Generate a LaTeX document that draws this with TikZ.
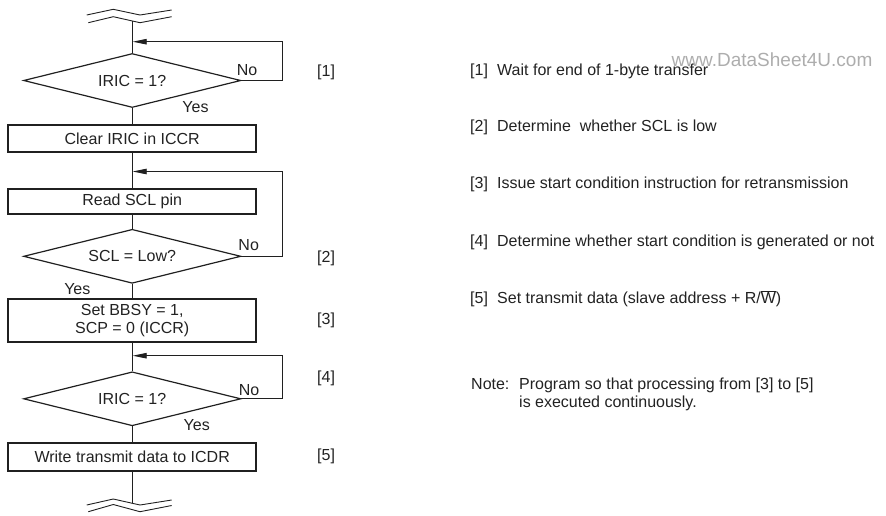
\documentclass[tikz,border=0pt]{standalone}
\usepackage{fontspec}
\setmainfont{Liberation Sans}
\usetikzlibrary{shapes.geometric,arrows.meta}
\definecolor{ln}{HTML}{202020}
\definecolor{tx}{HTML}{222222}
\definecolor{wm}{HTML}{ADADAD}
\tikzset{
  x=1pt, y=-1pt,
  every node/.style={text=tx, font=\fontsize{16}{18}\selectfont},
  procbox/.style={draw=ln, line width=2pt, rectangle, minimum width=247.7pt, inner sep=0pt, align=center},
  decbox/.style={draw=ln, line width=1.2pt, diamond, aspect=4, minimum width=217.3pt, minimum height=54pt, inner sep=0pt},
  conn/.style={draw=ln, line width=0.9pt},
  arr/.style={conn, -{Triangle[length=14pt,width=5.5pt]}},
  brk/.style={draw=ln, line width=0.9pt},
  lbl/.style={inner sep=0pt, anchor=base},
  ref/.style={inner sep=0pt, anchor=base west},
}
\begin{document}
\begin{tikzpicture}
\useasboundingbox (0,0) rectangle (886,515);

% break symbols
\draw[brk] (86.7,15) -- (113.3,9.3) -- (140,15) -- (171.7,10);
\draw[brk] (88.3,22.7) -- (113.3,16.7) -- (140,22.7) -- (171.7,16.7);
\draw[brk] (86.7,505) -- (113.3,499) -- (140,505) -- (171.7,500);
\draw[brk] (88.3,511.7) -- (113.3,504.5) -- (140,511.7) -- (171.7,505.5);
\coordinate (t0) at (132.2,20.6);
\coordinate (tend) at (132.2,503.4);

% flow nodes
\node[decbox] (d1) at (132.2,80.5) {IRIC = 1?};
\node[procbox, minimum height=26.7pt] (b1) at (132.2,138.3) {Clear IRIC in ICCR};
\node[procbox, minimum height=25pt] (b2) at (132.2,201.5) {Read SCL pin};
\node[decbox] (d2) at (132.2,256.3) {SCL = Low?};
\node[procbox, minimum height=43.3pt] (b3) at (132.2,320.7) {Set BBSY = 1,\\SCP = 0 (ICCR)};
\node[decbox] (d3) at (132.2,398.8) {IRIC = 1?};
\node[procbox, minimum height=27.7pt] (b4) at (132.2,456.8) {Write transmit data to ICDR};

\coordinate (j1) at (132.7,41.7);
\coordinate (j2) at (132.7,171.5);
\coordinate (j3) at (132.7,355.7);

% main line
\draw[conn] (t0) -- (d1.north);
\draw[conn] (d1.south) -- (b1.north);
\draw[conn] (b1.south) -- (b2.north);
\draw[conn] (b2.south) -- (d2.north);
\draw[conn] (d2.south) -- (b3.north);
\draw[conn] (b3.south) -- (d3.north);
\draw[conn] (d3.south) -- (b4.north);
\draw[conn] (b4.south) -- (tend);

% loops
\draw[arr] (d1.east) -- (282.7,80.5) |- (j1);
\draw[arr] (d2.east) -- (282.7,256.3) |- (j2);
\draw[arr] (d3.east) -- (282.7,398.8) |- (j3);

% yes/no
\node[lbl] (n1) at (247,75.7) {No};
\node[lbl] (y1) at (195.5,112.4) {Yes};
\node[lbl] (n2) at (248.7,250.7) {No};
\node[lbl] (y2) at (77.3,294) {Yes};
\node[lbl] (n3) at (249,395) {No};
\node[lbl] (y3) at (196.7,430.7) {Yes};

% step labels
\node[ref] (r1) at (317,76.2) {[1]};
\node[ref] (r2) at (317,262.2) {[2]};
\node[ref] (r3) at (317,324.5) {[3]};
\node[ref] (r4) at (317,382.5) {[4]};
\node[ref] (r5) at (317,460.5) {[5]};

% descriptions
\node[ref] (e1) at (470,75.5) {\makebox[27pt][l]{[1]}Wait for end of 1-byte transfer};
\node[ref] (e2) at (470,131.5) {\makebox[27pt][l]{[2]}Determine\ \ whether SCL is low};
\node[ref] (e3) at (470,188.5) {\makebox[27pt][l]{[3]}Issue start condition instruction for retransmission};
\node[ref] (e4) at (470,246) {\makebox[27pt][l]{[4]}Determine whether start condition is generated or not};
\node[ref] (e5) at (470,303.5) {\makebox[27pt][l]{[5]}Set transmit data (slave address + R/$\overline{\hbox{W}}$)};
\node[ref] (nt1) at (471,389.5) {\makebox[48pt][l]{Note:}Program so that processing from [3] to [5]};
\node[ref] (nt2) at (519,407.5) {is executed continuously.};

% watermark
\node[ref, text=wm, font=\fontsize{19}{21}\selectfont] (wmk) at (671.5,66.5) {www.DataSheet4U.com};
\end{tikzpicture}
\end{document}
